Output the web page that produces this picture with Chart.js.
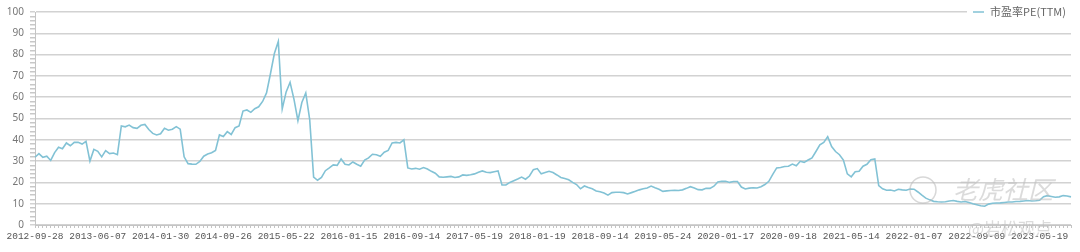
<!DOCTYPE html>
<html>
<head>
<meta charset="utf-8">
<script src="https://cdn.jsdelivr.net/npm/chart.js@4/dist/chart.umd.min.js"></script>
<style>
html,body{margin:0;padding:0;background:#fff;}
#wrap{width:1080px;height:252px;position:relative;}
</style>
</head>
<body>
<div id="wrap"><canvas id="c" width="1080" height="252"></canvas></div>
<script>
// ---- data ----
const seriesName = '市盈率PE(TTM)';
const tickLabels = ['2012-09-28','2013-06-07','2014-01-30','2014-09-26','2015-05-22','2016-01-15','2016-09-14','2017-05-19','2018-01-19','2018-09-14','2019-05-24','2020-01-17','2020-09-18','2021-05-14','2022-01-07','2022-09-09','2023-05-19'];
const pointsPerLabel = 16;
const peValues = [
  31.8,33.5,31.8,32.3,30.3,34.0,36.5,35.8,38.5,37.2,38.8,38.8,38.0,39.3,30.0,35.5,
  34.6,32.0,34.9,33.5,33.8,33.0,46.5,46.1,46.9,45.7,45.4,46.8,47.2,44.8,43.0,42.3,
  42.8,45.4,44.5,45.0,46.2,45.0,32.0,28.8,28.6,28.5,29.8,32.3,33.3,33.9,35.0,42.3,
  41.5,43.8,42.5,45.7,46.5,53.5,54.0,52.9,54.6,55.5,58.0,62.0,71.0,80.5,86.1,54.5,
  62.5,67.0,59.0,49.0,57.5,62.0,49.5,22.5,21.0,22.3,25.5,26.8,28.2,28.0,31.0,28.5,
  28.2,29.6,28.5,27.6,30.5,31.5,33.2,33.0,32.3,34.2,35.0,38.5,38.8,38.5,40.0,26.8,
  26.3,26.6,26.2,27.0,26.3,25.2,24.3,22.6,22.4,22.6,22.8,22.3,22.6,23.5,23.3,23.6,
  24.0,24.8,25.4,24.8,24.6,25.0,25.4,18.8,18.8,20.0,20.8,21.6,22.5,21.5,23.0,26.0,
  26.5,24.0,24.6,25.2,24.6,23.5,22.3,21.8,21.2,20.0,19.0,17.0,18.3,17.6,17.0,16.0,
  15.6,15.0,14.0,15.2,15.4,15.4,15.2,14.6,15.2,15.8,16.5,17.0,17.4,18.3,17.5,16.8,
  15.8,16.0,16.2,16.3,16.2,16.5,17.2,18.0,17.4,16.6,16.5,17.2,17.2,18.2,20.2,20.5,
  20.5,20.0,20.4,20.4,17.8,16.9,17.3,17.5,17.4,18.0,19.0,20.5,23.8,26.8,27.0,27.5,
  27.6,28.6,27.8,29.9,29.4,30.5,31.5,34.5,37.6,38.8,41.5,36.8,34.5,33.0,30.5,24.0,
  22.6,25.0,25.2,27.6,28.5,30.6,31.0,18.5,17.0,16.3,16.4,16.0,16.8,16.5,16.3,16.9,
  16.8,15.5,14.0,12.6,11.8,11.1,10.9,10.8,10.9,11.3,11.5,11.1,10.8,11.0,10.6,10.0,
  9.5,9.0,8.8,9.8,10.2,10.3,10.4,10.6,10.8,10.8,11.0,11.1,11.3,11.5,11.3,11.4,
  11.6,13.3,13.8,13.4,13.0,13.2,13.8,13.6,13.2
];
const yMin = 0, yMax = 100, yMajorStep = 10, yMinorStep = 2;

// category labels: a tick label every pointsPerLabel points
const categories = peValues.map((v, i) => (i % pointsPerLabel === 0 ? (tickLabels[i / pointsPerLabel] || '') : ''));

const lineColor = '#82c2d5';
const gridColor = '#d2d2d2';

const overlayPlugin = {
  id: 'overlay',
  afterDraw(chart) {
    const ctx = chart.ctx;
    const area = chart.chartArea;
    ctx.save();
    // watermark
    ctx.globalAlpha = 0.55;
    ctx.strokeStyle = '#b8b8b8';
    ctx.lineWidth = 1.5;
    ctx.beginPath();
    ctx.arc(923, 190, 13, 0, Math.PI * 2);
    ctx.stroke();
    ctx.fillStyle = '#bdbdbd';
    ctx.font = 'italic 25px "Noto Sans CJK SC"';
    ctx.textBaseline = 'middle';
    ctx.textAlign = 'left';
    ctx.fillText('老虎社区', 953, 189);
    ctx.font = '17px "Noto Sans CJK SC"';
    ctx.fillText('@岩松观点', 968, 229);
    ctx.globalAlpha = 1;
    // legend
    const ly = area.top;
    ctx.fillStyle = '#ffffff';
    ctx.fillRect(967, ly - 7, area.right - 967 + 2, 14);
    ctx.strokeStyle = lineColor;
    ctx.lineWidth = 1.5;
    ctx.beginPath();
    ctx.moveTo(973, ly);
    ctx.lineTo(984, ly);
    ctx.stroke();
    ctx.fillStyle = '#666666';
    ctx.font = '11px "Noto Sans CJK SC"';
    ctx.textBaseline = 'middle';
    ctx.fillText(seriesName, 990, ly);
    ctx.restore();
  }
};

new Chart(document.getElementById('c'), {
  type: 'line',
  data: {
    labels: categories,
    datasets: [{
      label: seriesName,
      data: peValues,
      borderColor: lineColor,
      backgroundColor: lineColor,
      borderWidth: 1.6,
      pointRadius: 0,
      tension: 0,
      fill: false
    }]
  },
  options: {
    responsive: false,
    animation: false,
    devicePixelRatio: 1,
    layout: { padding: { top: 8, right: 9, left: 0, bottom: 0 } },
    plugins: { legend: { display: false }, tooltip: { enabled: false } },
    scales: {
      x: {
        type: 'category',
        offset: false,
        afterFit(scale) { scale.height = 27; },
        grid: { drawOnChartArea: false, drawTicks: true, tickLength: 3, color: '#c4c4c4', tickColor: '#c4c4c4' },
        border: { display: true, color: '#c4c4c4', width: 1 },
        ticks: {
          autoSkip: false, maxRotation: 0, minRotation: 0, padding: 3,
          color: '#555555',
          font: { family: '"Liberation Mono", "DejaVu Sans Mono", monospace', size: 9.5 },
          callback(v, i) { return categories[i]; }
        }
      },
      y: {
        min: yMin, max: yMax,
        afterFit(scale) { scale.width = 35; },
        grid: {
          drawTicks: true, tickLength: 5,
          color(c) { return (c.tick && c.tick.value % yMajorStep === 0) ? gridColor : 'rgba(0,0,0,0)'; },
          tickColor(c) { return (c.tick && c.tick.value % yMajorStep === 0) ? gridColor : '#c8c8c8'; },
          lineWidth: 1.5
        },
        border: { display: true, color: '#c4c4c4', width: 1 },
        ticks: {
          stepSize: yMinorStep, autoSkip: false, padding: 6,
          color: '#777777',
          font: { family: '"Noto Sans", sans-serif', size: 10 },
          callback(v) { return v % yMajorStep === 0 ? String(v) : ''; }
        }
      }
    }
  },
  plugins: [overlayPlugin]
});
</script>
</body>
</html>
